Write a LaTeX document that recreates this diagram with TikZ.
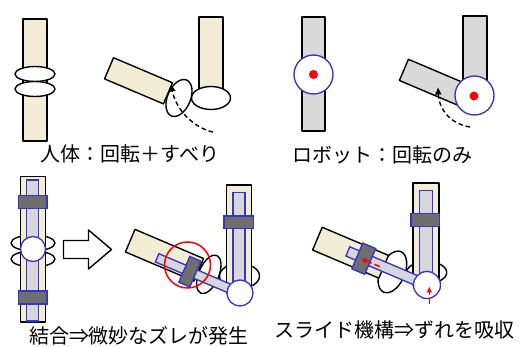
\documentclass[tikz,border=0pt]{standalone}
\usepackage{fontspec}
\newfontfamily\jp{Noto Sans CJK JP}
\usetikzlibrary{arrows.meta}
\definecolor{bone}{HTML}{F3EDD6}
\definecolor{armgray}{HTML}{D9D9D9}
\definecolor{rail}{HTML}{D6D6DC}
\definecolor{slider}{HTML}{6E6E6E}
\definecolor{jointblue}{HTML}{3535C8}
\definecolor{hotred}{HTML}{FF0000}
\tikzset{
  outline/.style={draw=black, line width=1.4pt, line join=round},
  bonebox/.style={outline, fill=bone},
  robotarm/.style={outline, fill=armgray},
  cart/.style={outline, fill=white},
  railbar/.style={draw=jointblue, line width=1.35pt, fill=rail},
  sliderbox/.style={draw=jointblue, line width=1.35pt, fill=slider},
  jointcircle/.style={draw=jointblue, line width=1.35pt, fill=white},
  motion/.style={line width=1.4pt, dash pattern=on 4.5pt off 3pt, -{Latex[length=7.5pt,width=7pt]}},
  shiftarrow/.style={draw=hotred, line width=1.5pt, dash pattern=on 6pt off 3pt, -{Latex[length=6pt,width=6pt]}},
  caption/.style={font=\jp\fontsize{20}{24}\selectfont, text=black, inner sep=0pt},
}
\begin{document}
\begin{tikzpicture}[x=1pt,y=-1pt]
\useasboundingbox (0,0) rectangle (520,347);

% --- human knee, straight
\draw[bonebox] (23,19) rectangle (47,141);
\draw[cart] (35,74) ellipse [x radius=20, y radius=7.5];
\draw[cart] (35,89) ellipse [x radius=20, y radius=7.5];

% --- human knee, bent (rolling and sliding)
\draw[bonebox] (199,17) rectangle (223,96);
\draw[cart] (211,98) ellipse [x radius=19.5, y radius=11.5];
\begin{scope}[shift={(179,98)}, rotate=-23]
  \draw[bonebox] (-76,-11.5) rectangle (-12,11.5);
  \draw[cart] (0,0) ellipse [x radius=11.5, y radius=19.5];
\end{scope}
\coordinate (hs) at (213,132);
\coordinate (he) at (171,84);
\draw[motion] (hs) .. controls (194,128) and (176,110) .. (he);

% --- robot joint, straight
\draw[robotarm] (302,17) rectangle (325,131);
\draw[jointcircle] (313.5,74.5) circle [radius=19.5];
\fill[hotred] (313.5,74.5) circle [radius=4.5];

% --- robot joint, bent (pure rotation)
\draw[robotarm] (463,16) rectangle (487,95);
\begin{scope}[shift={(474.5,95.5)}, rotate=-23]
  \draw[robotarm] (-75,-7.5) rectangle (-5,15.5);
\end{scope}
\draw[jointcircle] (474.5,95.5) circle [radius=19.5];
\fill[hotred] (474,96) circle [radius=4.5];
\coordinate (rs) at (470,127);
\coordinate (re) at (438,87);
\draw[motion] (rs) .. controls (451,124) and (439,110) .. (re);

% --- captions, top row
\node[caption] (capA) at (130,154) {人体：回転＋すべり};
\node[caption] (capB) at (382.5,155) {ロボット：回転のみ};

% --- combined: knee with rigid robot joint, straight
\draw[cart] (33,243) ellipse [x radius=22, y radius=8];
\draw[cart] (33,259) ellipse [x radius=22, y radius=8];
\draw[bonebox] (20.5,176.5) rectangle (45.5,322);
\draw[railbar] (26.5,180) rectangle (38.5,321);
\draw[sliderbox] (18.5,195.5) rectangle (47,208.5);
\draw[sliderbox] (18.5,291) rectangle (47,304);
\draw[jointcircle] (33,249) circle [radius=12.5];

% --- block arrow
\draw[outline, fill=white] (63.5,240.5) -- (88.5,240.5) -- (88.5,230) -- (111.5,249.5)
  -- (88.5,269) -- (88.5,258.5) -- (63.5,258.5) -- cycle;

% --- combined, bent: misalignment
\draw[cart] (239.5,276) ellipse [x radius=20, y radius=12.5];
\begin{scope}[shift={(240,293)}, rotate=-23]
  \draw[cart] (-36,-5) ellipse [x radius=10, y radius=20.5];
\end{scope}
\draw[bonebox] (226.5,185) rectangle (251.5,293);
\begin{scope}[shift={(240,293)}, rotate=-23]
  \draw[bonebox] (-121.5,-17.5) rectangle (-47,7);
  \draw[railbar] (-90,-4.5) rectangle (0,4.5);
  \draw[sliderbox] (-60.5,-14) rectangle (-48.5,14);
\end{scope}
\draw[railbar] (233,192.5) rectangle (245,293);
\draw[sliderbox] (224,216) rectangle (253.5,228.5);
\draw[jointcircle] (240,293) circle [radius=13];
\draw[hotred, line width=1.5pt] (187.5,265) circle [radius=23];

% --- slide mechanism absorbs the offset
\draw[cart] (426.7,272.5) ellipse [x radius=20, y radius=11];
\begin{scope}[shift={(427,285)}, rotate=-23]
  \draw[cart] (-37,1.5) ellipse [x radius=12.5, y radius=22];
\end{scope}
\draw[bonebox] (413,183) rectangle (439,285);
\begin{scope}[shift={(427,285)}, rotate=-23]
  \draw[bonebox] (-119,-12.2) rectangle (-47,12.5);
  \draw[railbar] (-86,-5) rectangle (0,5);
  \draw[sliderbox] (-75.5,-13.5) rectangle (-61.5,14.5);
  \coordinate (ss) at (-50.5,1.5);
  \coordinate (se) at (-71.5,1.5);
\end{scope}
\draw[railbar] (419.3,190.7) rectangle (432.3,285);
\draw[sliderbox] (411,213.3) rectangle (439.3,226.7);
\draw[jointcircle] (427,285) circle [radius=13.5];
\draw[shiftarrow] (ss) -- (se);
\coordinate (us) at (429.3,304);
\coordinate (ue) at (429.3,286.5);
\draw[shiftarrow] (us) -- (ue);

% --- captions, bottom row
\node[caption] (capC) at (139,336) {結合⇒微妙なズレが発生};
\node[caption] (capD) at (394,330) {スライド機構⇒ずれを吸収};
\end{tikzpicture}
\end{document}
